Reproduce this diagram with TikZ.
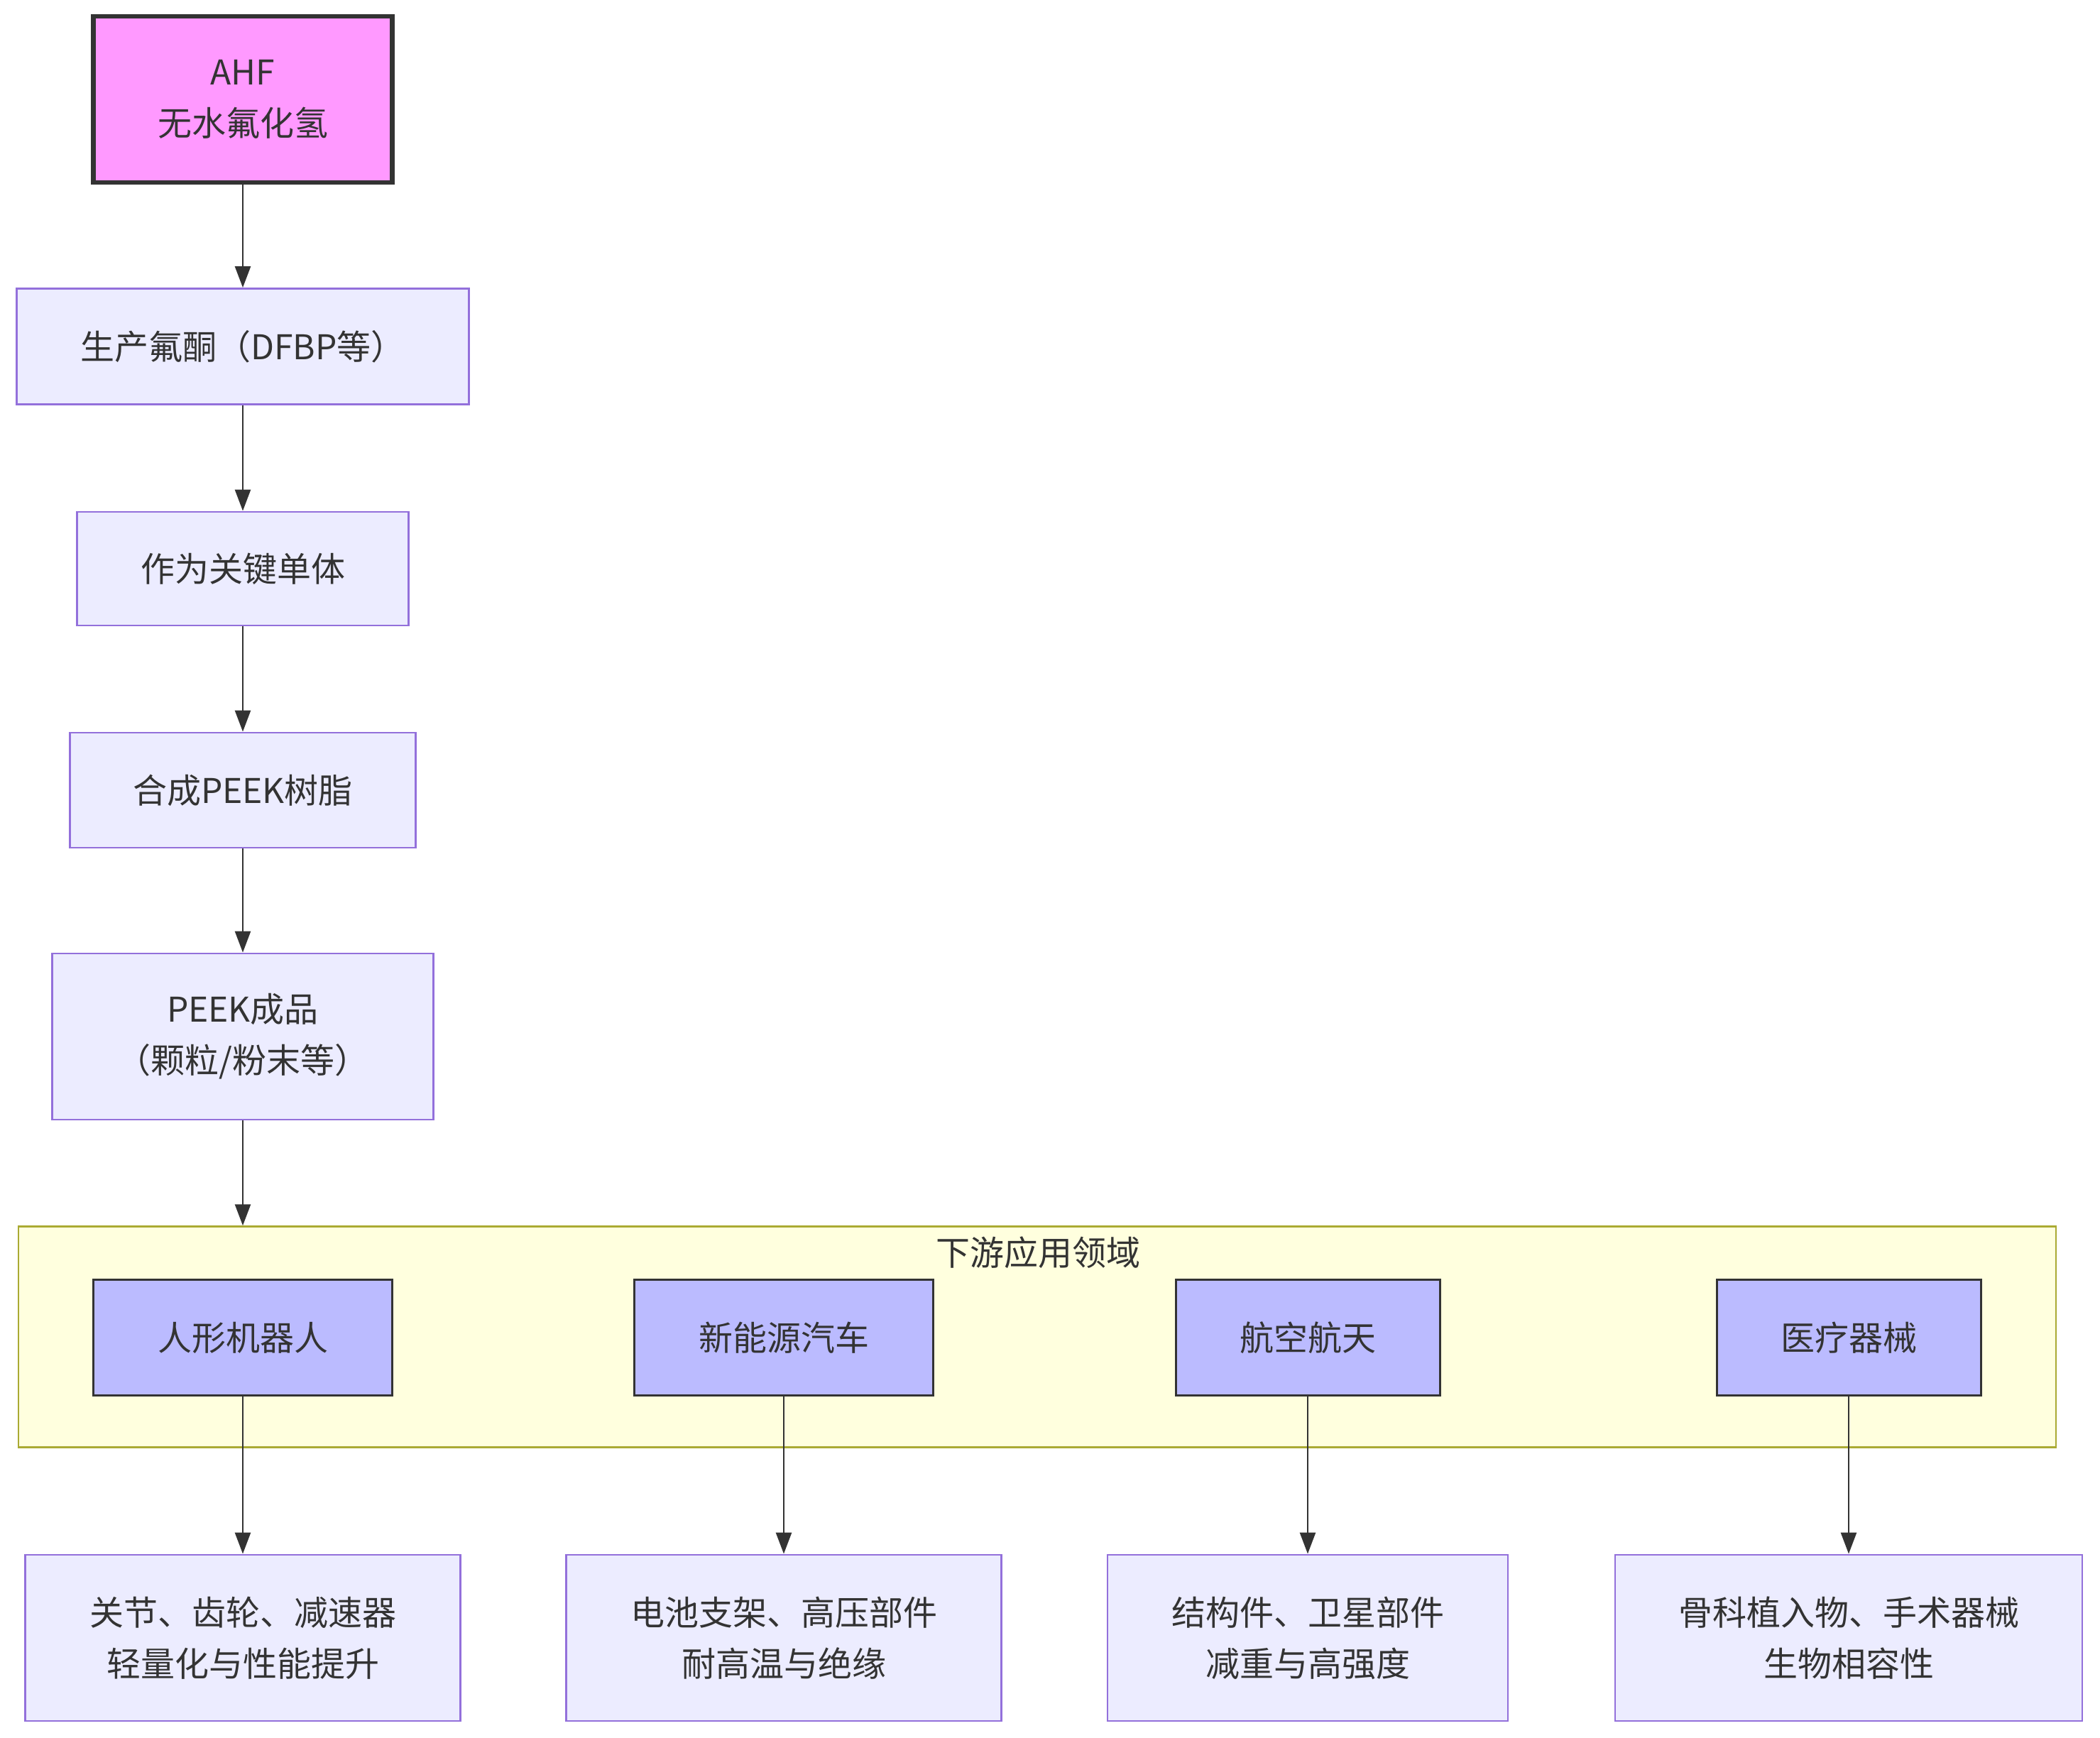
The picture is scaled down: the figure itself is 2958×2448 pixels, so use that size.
\documentclass[tikz,border=0pt]{standalone}
\usepackage{fontspec}
\setmainfont{Noto Sans CJK SC}
\usetikzlibrary{arrows.meta}
\definecolor{ink}{HTML}{333333}
\definecolor{stepfill}{HTML}{ECECFF}
\definecolor{stepline}{HTML}{9370DB}
\definecolor{srcfill}{HTML}{FF99FF}
\definecolor{usefill}{HTML}{BBBBFF}
\definecolor{clusfill}{HTML}{FFFFDE}
\definecolor{clusline}{HTML}{AAAA33}
\begin{document}
\begin{tikzpicture}[x=1pt, y=-1pt,
	font=\fontsize{48}{72}\selectfont, text=ink,
	box/.style={rectangle, inner sep=0pt, align=center},
	stepbox/.style={box, fill=stepfill, draw=stepline, line width=2.8pt},
	srcbox/.style={box, fill=srcfill, draw=ink, line width=6.5pt},
	usebox/.style={box, fill=usefill, draw=ink, line width=3pt},
	flow/.style={-{Triangle[length=30pt, width=22pt]}, draw=ink, line width=2.6pt}]
	\useasboundingbox (0,0) rectangle (2958,2448);
	\node[srcbox, minimum width=421pt, minimum height=234pt] (ahf) at (342,140) {AHF\\无水氟化氢};
	\node[stepbox, minimum width=637pt, minimum height=163pt] (dfbp) at (342,488) {生产氟酮（DFBP等）};
	\node[stepbox, minimum width=467pt, minimum height=160pt] (mono) at (342,801) {作为关键单体};
	\node[stepbox, minimum width=487pt, minimum height=162pt] (resin) at (342,1113) {合成PEEK树脂};
	\node[stepbox, minimum width=537pt, minimum height=234pt] (prod) at (342,1460) {PEEK成品\\（颗粒/粉末等）};
	\node[box, fill=clusfill, draw=clusline, line width=2.5pt, minimum width=2870pt, minimum height=311pt] (clus) at (1461,1883) {};
	\node (clustitle) at (1462,1764) {下游应用领域};
	\node[usebox, minimum width=421pt, minimum height=163pt] (robot) at (342,1884) {人形机器人};
	\node[usebox, minimum width=421pt, minimum height=163pt] (ev) at (1104,1884) {新能源汽车};
	\node[usebox, minimum width=372pt, minimum height=163pt] (aero) at (1842,1884) {航空航天};
	\node[usebox, minimum width=372pt, minimum height=163pt] (med) at (2604,1884) {医疗器械};
	\node[stepbox, minimum width=613pt, minimum height=234pt] (robotuse) at (342,2307) {关节、齿轮、减速器\\轻量化与性能提升};
	\node[stepbox, minimum width=613pt, minimum height=234pt] (evuse) at (1104,2307) {电池支架、高压部件\\耐高温与绝缘};
	\node[stepbox, minimum width=564pt, minimum height=234pt] (aerouse) at (1842,2307) {结构件、卫星部件\\减重与高强度};
	\node[stepbox, minimum width=658pt, minimum height=234pt] (meduse) at (2604,2307) {骨科植入物、手术器械\\生物相容性};
	\draw[flow] (ahf) -- (dfbp);
	\draw[flow] (dfbp) -- (mono);
	\draw[flow] (mono) -- (resin);
	\draw[flow] (resin) -- (prod);
	\draw[flow] (prod.south) -- (prod.south |- clus.north);
	\draw[flow] (robot) -- (robotuse);
	\draw[flow] (ev) -- (evuse);
	\draw[flow] (aero) -- (aerouse);
	\draw[flow] (med) -- (meduse);
\end{tikzpicture}
\end{document}
